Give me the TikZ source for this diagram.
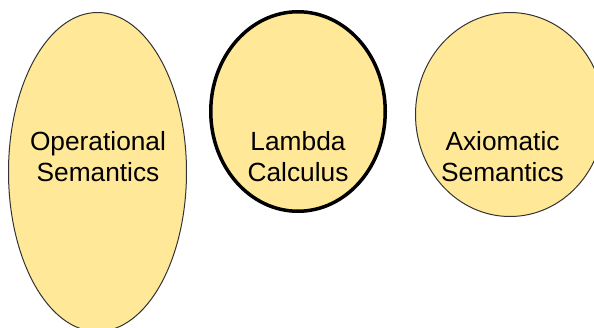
\documentclass[tikz,border=0pt]{standalone}
\usepackage{fontspec}
\setmainfont{Liberation Sans}
\usetikzlibrary{shapes.geometric}
\definecolor{ellfill}{HTML}{FFE999}
\definecolor{ellline}{HTML}{333333}
\tikzset{
  ell/.style={ellipse, draw=ellline, fill=ellfill, line width=1pt, inner sep=0pt},
  ellthick/.style={ellipse, draw=black, fill=ellfill, line width=3.5pt, inner sep=0pt},
  lbl/.style={align=center, inner sep=0pt, font=\fontsize{26.3}{31.5}\selectfont}
}
\begin{document}
\begin{tikzpicture}[x=1pt,y=-1pt]
\useasboundingbox (0,0) rectangle (594,327);
\clip (0,0) rectangle (594,327);
\node[ell, minimum width=178pt, minimum height=319pt] (op) at (97.5,172) {};
\node[ellthick, minimum width=174.5pt, minimum height=199.5pt] (lam) at (298,111.5) {};
\node[ell, minimum width=189pt, minimum height=204pt] (ax) at (510,114.5) {};
\node[lbl] (optext) at (98,156.5) {Operational\\Semantics};
\node[lbl] (lamtext) at (298,156.5) {Lambda\\Calculus};
\node[lbl] (axtext) at (502.5,156.5) {Axiomatic\\Semantics};
\end{tikzpicture}
\end{document}
